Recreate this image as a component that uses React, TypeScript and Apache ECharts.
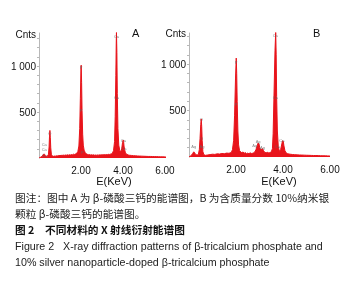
import React, { useEffect, useRef } from "react";
import * as echarts from "echarts";

// Spectrum A: β-tricalcium phosphate
const energyA = [
  0.0, 0.05, 0.1, 0.15, 0.2, 0.24, 0.27, 0.3, 0.35, 0.4, 0.45, 0.48, 0.5, 0.52, 0.54, 0.56, 0.59, 0.63,
  0.7, 0.75, 0.8, 0.85, 0.9, 0.95, 1.0, 1.05, 1.1, 1.15, 1.2, 1.25, 1.3, 1.35, 1.4, 1.45, 1.5, 1.55,
  1.6, 1.65, 1.7, 1.75, 1.8, 1.85, 1.9, 1.94, 1.97, 2.0, 2.01, 2.03, 2.05, 2.08, 2.11, 2.15, 2.2, 2.25,
  2.3, 2.35, 2.4, 2.45, 2.5, 2.55, 2.6, 2.65, 2.7, 2.75, 2.8, 2.85, 2.9, 2.95, 3.0, 3.05, 3.1, 3.15,
  3.2, 3.25, 3.3, 3.35, 3.4, 3.45, 3.5, 3.55, 3.6, 3.63, 3.66, 3.68, 3.69, 3.71, 3.73, 3.76, 3.8, 3.85,
  3.9, 3.94, 3.98, 4.01, 4.03, 4.05, 4.08, 4.12, 4.18, 4.25, 4.3, 4.4, 4.5, 4.6, 4.7, 4.8, 4.9, 5.0,
  5.1, 5.2, 5.3, 5.4, 5.5, 5.6, 5.7, 5.8, 5.9, 6.0, 6.05,
];
const countsA = [
  0, 5, 12, 20, 35, 45, 38, 25, 18, 20, 40, 120, 230, 300, 220, 110, 40, 22,
  18, 22, 20, 25, 22, 28, 25, 30, 27, 32, 28, 33, 30, 35, 31, 36, 33, 38,
  35, 42, 38, 45, 52, 70, 130, 320, 650, 980, 1010, 820, 520, 260, 140, 85, 60, 45,
  40, 36, 38, 33, 36, 32, 35, 30, 33, 30, 34, 31, 35, 32, 36, 33, 37, 34,
  38, 35, 40, 38, 42, 45, 55, 80, 180, 450, 900, 1250, 1370, 1150, 700, 320, 140, 80,
  70, 100, 170, 195, 180, 130, 90, 55, 40, 33, 30, 28, 25, 24, 22, 21, 20, 19,
  18, 17, 17, 16, 15, 15, 14, 13, 13, 12, 10,
];

// Spectrum B: 10% silver nanoparticle-doped β-tricalcium phosphate
const energyB = [
  0.0, 0.05, 0.1, 0.15, 0.2, 0.23, 0.27, 0.3, 0.35, 0.4, 0.44, 0.47, 0.5, 0.52, 0.54, 0.56, 0.59, 0.63,
  0.7, 0.8, 0.9, 1.0, 1.1, 1.2, 1.3, 1.4, 1.5, 1.6, 1.7, 1.8, 1.85, 1.9, 1.94, 1.98, 2.01, 2.03,
  2.05, 2.08, 2.11, 2.15, 2.2, 2.25, 2.3, 2.35, 2.4, 2.45, 2.5, 2.55, 2.6, 2.65, 2.7, 2.75, 2.8, 2.85,
  2.9, 2.94, 2.98, 3.01, 3.05, 3.1, 3.13, 3.17, 3.22, 3.28, 3.35, 3.4, 3.45, 3.5, 3.55, 3.58, 3.62, 3.66,
  3.69, 3.71, 3.73, 3.76, 3.8, 3.85, 3.9, 3.95, 3.98, 4.01, 4.04, 4.08, 4.13, 4.2, 4.3, 4.4, 4.5, 4.6,
  4.7, 4.8, 4.9, 5.0, 5.1, 5.2, 5.3, 5.4, 5.5, 5.6, 5.7, 5.8, 5.9, 6.0,
];
const countsB = [
  0, 8, 18, 35, 55, 50, 30, 25, 22, 30, 80, 200, 350, 410, 330, 180, 60, 25,
  18, 22, 26, 30, 28, 34, 32, 38, 35, 42, 40, 48, 80, 180, 450, 850, 1065, 900,
  600, 280, 130, 70, 55, 45, 55, 40, 48, 35, 42, 35, 45, 38, 40, 45, 55, 80,
  120, 150, 140, 100, 75, 85, 90, 70, 50, 45, 50, 42, 48, 55, 90, 250, 700, 1150,
  1345, 1100, 650, 280, 110, 60, 80, 140, 175, 170, 120, 70, 45, 35, 30, 27, 25, 23,
  22, 21, 20, 19, 18, 17, 16, 16, 15, 14, 13, 13, 12, 10,
];

// Peak identification labels (energy, counts, element)
const labelsA: [number, number, string][] = [
  [3.69, 1320, "Ca"], [3.69, 660, "Ca"], [2.01, 990, "P"], [2.01, 520, "P"],
  [0.52, 270, "O"], [0.25, 150, "Ca"], [0.25, 90, "Ca"], [0.25, 30, "Cu"],
  [4.02, 190, "Ca"], [4.04, 100, "Ca"], [2.06, 60, "P"],
];
const labelsB: [number, number, string][] = [
  [3.67, 1310, "Ca"], [3.67, 640, "Ca"], [2.0, 1020, "P"], [2.0, 560, "P"],
  [0.52, 400, "O"], [0.52, 200, "O"], [0.2, 110, "Ag"], [0.55, 110, "Ag"],
  [2.94, 170, "Ag"], [2.8, 120, "Ag"], [3.13, 100, "Ag"], [3.95, 180, "Ca"],
  [3.76, 110, "Ca"],
];

const yTicks = [100, 200, 300, 400, 500, 600, 700, 800, 900, 1000, 1100, 1200, 1300];
const yLabels = [500, 1000];
const xLabels = [2, 4, 6];

const captionLines = [
  "图注：图中 A 为 β-磷酸三钙的能谱图，B 为含质量分数 10%纳米银",
  "颗粒 β-磷酸三钙的能谱图。",
  "图 2　不同材料的 X 射线衍射能谱图",
  "Figure 2   X-ray diffraction patterns of β-tricalcium phosphate and",
  "10% silver nanoparticle-doped β-tricalcium phosphate",
];

const RED = "#e8141b";

export default function App() {
  const ref = useRef<HTMLDivElement>(null);
  useEffect(() => {
    document.body.style.margin = "0";
    const chart = echarts.init(ref.current!, undefined, { renderer: "svg" });
    const mkX = (idx: number, max: number) => ({
      type: "value",
      gridIndex: idx,
      min: 0,
      max,
      axisLine: { show: false },
      axisTick: { show: false },
      splitLine: { show: false },
      axisLabel: {
        customValues: xLabels,
        formatter: (v: number) => v.toFixed(2),
        fontSize: 10,
        color: "#111",
        fontFamily: "Liberation Sans",
        margin: 7,
      },
    });
    const mkY = (idx: number, max: number) => ({
      type: "value",
      gridIndex: idx,
      min: 0,
      max,
      axisLine: { show: true, lineStyle: { color: "#b8b8b8", width: 1 } },
      axisTick: { show: true, customValues: yTicks, length: 2, lineStyle: { color: "#b8b8b8" } },
      splitLine: { show: false },
      axisLabel: {
        customValues: yLabels,
        formatter: (v: number) => (v === 1000 ? "1 000" : String(v)),
        fontSize: 10,
        color: "#111",
        fontFamily: "Liberation Sans",
        margin: 3,
      },
    });
    const spectrum = (idx: number, e: number[], c: number[]) => ({
      type: "line",
      xAxisIndex: idx,
      yAxisIndex: idx,
      data: e.map((x, i) => [x, c[i]]),
      symbol: "none",
      lineStyle: { color: RED, width: 1 },
      areaStyle: { color: RED, opacity: 1 },
      z: 2,
    });
    const peakLabels = (idx: number, l: [number, number, string][]) => ({
      type: "scatter",
      xAxisIndex: idx,
      yAxisIndex: idx,
      symbolSize: 0,
      data: l.map((p) => ({ value: [p[0], p[1]], name: p[2] })),
      label: {
        show: true,
        formatter: (p: any) => p.name,
        position: "inside",
        fontSize: 4,
        color: "#666",
        fontFamily: "Liberation Sans",
      },
      z: 5,
      silent: true,
    });
    const txt = (x: number, y: number, text: string, extra: any = {}) => ({
      type: "text",
      x,
      y,
      style: {
        text,
        fontSize: 10,
        fill: "#111",
        fontFamily: "Liberation Sans",
        textVerticalAlign: "middle",
        ...extra,
      },
    });
    chart.setOption({
      animation: false,
      grid: [
        { left: 39, top: 33, width: 127, height: 125 },
        { left: 189, top: 33, width: 141, height: 124 },
      ],
      xAxis: [mkX(0, 6.05), mkX(1, 6.0)],
      yAxis: [mkY(0, 1360), mkY(1, 1335)],
      series: [
        spectrum(0, energyA, countsA),
        spectrum(1, energyB, countsB),
        peakLabels(0, labelsA),
        peakLabels(1, labelsB),
      ],
      graphic: [
        txt(36, 34, "Cnts", { textAlign: "right" }),
        txt(186, 33, "Cnts", { textAlign: "right" }),
        txt(132, 33, "A", { fontSize: 11 }),
        txt(313, 33, "B", { fontSize: 11 }),
        txt(114, 181, "E(KeV)", { textAlign: "center", fontSize: 11 }),
        txt(279, 181, "E(KeV)", { textAlign: "center", fontSize: 11 }),
        txt(15, 197, captionLines[0], { fontSize: 10.7, fontFamily: "Noto Sans CJK SC", fill: "#222" }),
        txt(15, 213, captionLines[1], { fontSize: 10.7, fontFamily: "Noto Sans CJK SC", fill: "#222" }),
        txt(15, 229, captionLines[2], { fontSize: 10.7, fontFamily: "Noto Sans CJK SC", fill: "#111", fontWeight: "bold" }),
        txt(15, 246, captionLines[3], { fontSize: 10.7, fontFamily: "Liberation Sans", fill: "#222" }),
        txt(15, 262, captionLines[4], { fontSize: 10.7, fontFamily: "Liberation Sans", fill: "#222" }),
      ],
    });
    return () => chart.dispose();
  }, []);
  return <div ref={ref} style={{ position: "fixed", left: 0, top: 0, width: 348, height: 282 }} />;
}
